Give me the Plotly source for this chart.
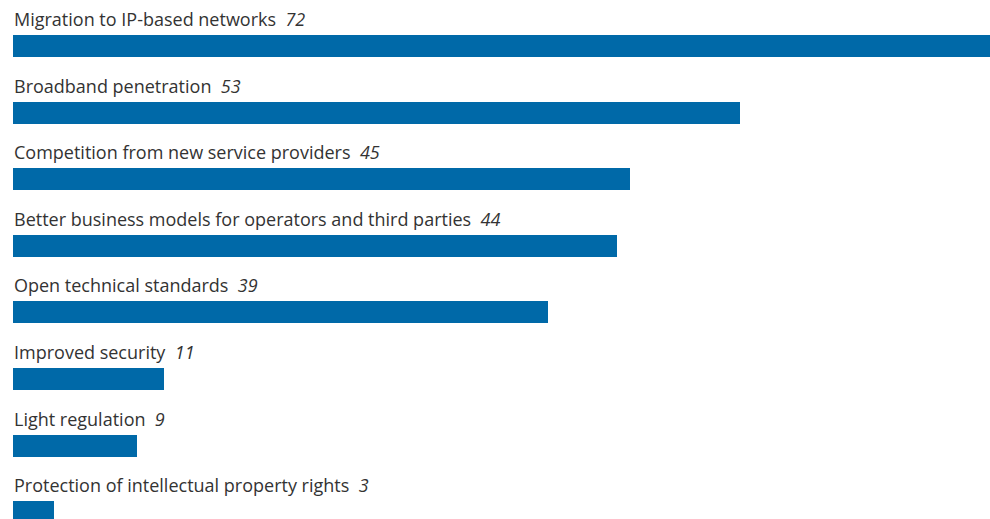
import plotly.graph_objects as go

# Factors driving the market, share of respondents (%)
factors = [
    "Migration to IP-based networks",
    "Broadband penetration",
    "Competition from new service providers",
    "Better business models for operators and third parties",
    "Open technical standards",
    "Improved security",
    "Light regulation",
    "Protection of intellectual property rights",
]
shares = [72, 53, 45, 44, 39, 11, 9, 3]

BAR_COLOR = "#0069a8"
TEXT_COLOR = "#333333"
BAR_WIDTH = 0.33

positions = list(range(len(factors)))

fig = go.Figure(
    go.Bar(
        x=shares,
        y=positions,
        orientation="h",
        width=BAR_WIDTH,
        marker=dict(color=BAR_COLOR, line=dict(width=0)),
        hoverinfo="skip",
    )
)

# Category label with its value in italics, sitting just above each bar
for pos, name, val in zip(positions, factors, shares):
    fig.add_annotation(
        x=0,
        y=pos - BAR_WIDTH / 2,
        xref="x",
        yref="y",
        xanchor="left",
        yanchor="bottom",
        text=f"{name}\u00a0 <i>{val}</i>",
        showarrow=False,
        font=dict(family="Open Sans", size=18, color=TEXT_COLOR),
        xshift=-1,
        yshift=2,
    )

fig.update_layout(
    width=990,
    height=519,
    margin=dict(l=13, r=0, t=0, b=0),
    paper_bgcolor="white",
    plot_bgcolor="white",
    showlegend=False,
    bargap=0,
    xaxis=dict(range=[0, 71.2], visible=False, fixedrange=True),
    yaxis=dict(range=[7.102, -0.691], visible=False, fixedrange=True),
)

fig.write_html("out.html")
